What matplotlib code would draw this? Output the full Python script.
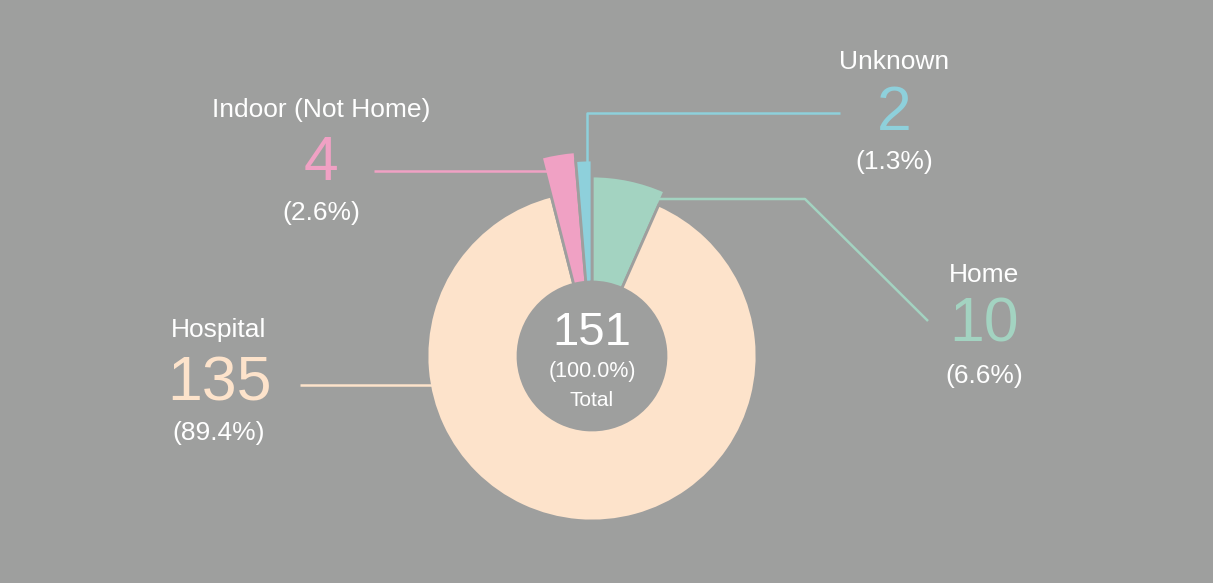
import matplotlib.pyplot as plt
from matplotlib.patches import Wedge

# data (clockwise from 12 o'clock)
categories = ['Home', 'Hospital', 'Indoor (Not Home)', 'Unknown']
counts = [10, 135, 4, 2]
colors = ['#a3d3c1', '#fde3cb', '#f0a1c4', '#8ed0db']
outer_r = [180, 165, 205, 196]   # small slices stick out further
total = sum(counts)

bg = '#9e9f9e'
cx, cy = 592, 356
inner_r = 74

fig = plt.figure(figsize=(12.13, 5.83), dpi=100, facecolor=bg)
ax = fig.add_axes([0, 0, 1, 1])
ax.set_facecolor(bg)
ax.set_xlim(0, 1213)
ax.set_ylim(583, 0)
ax.axis('off')

# wedges (y axis inverted, so increasing angle runs clockwise)
start = 0
for n, col, r in zip(counts, colors, outer_r):
    t1 = -90 + start / total * 360
    t2 = -90 + (start + n) / total * 360
    ax.add_patch(Wedge((cx, cy), r, t1, t2, width=r - inner_r,
                       facecolor=col, edgecolor=bg, linewidth=2.0))
    start += n

# leader lines
lw = 1.8
ax.plot([300, 432], [385, 385], color=colors[1], lw=lw, solid_capstyle='butt')
ax.plot([374, 548], [171, 171], color=colors[2], lw=lw, solid_capstyle='butt')
ax.plot([840, 587, 587], [113, 113, 163], color=colors[3], lw=lw, solid_capstyle='butt')
ax.plot([655, 805, 928], [199, 199, 321], color=colors[0], lw=lw, solid_capstyle='butt')

# labels
lab_font = ['Liberation Sans', 'DejaVu Sans']
label_pos = {
    'Home': (984, 275, 325, 376),
    'Hospital': (219, 330, 384, 433),
    'Indoor (Not Home)': (321, 110, 164, 213),
    'Unknown': (894, 62, 113, 162),
}
for cat, n, col in zip(categories, counts, colors):
    x, yt, yn, yp = label_pos[cat]
    ax.text(x, yt, cat, color='white', fontsize=19, family=lab_font,
            ha='center', va='center')
    ax.text(x, yn, str(n), color=col, fontsize=45, family=lab_font,
            ha='center', va='center')
    ax.text(x, yp, '(%.1f%%)' % (n / total * 100), color='white',
            fontsize=19, family=lab_font, ha='center', va='center')

# center text
ax.text(cx, 333, str(total), color='white', fontsize=34, family=lab_font,
        ha='center', va='center')
ax.text(cx, 372, '(100.0%)', color='white', fontsize=15.5, family=lab_font,
        ha='center', va='center')
ax.text(cx, 401, 'Total', color='white', fontsize=15, family=lab_font,
        ha='center', va='center')

fig.savefig('out.png', dpi=100, facecolor=bg)
